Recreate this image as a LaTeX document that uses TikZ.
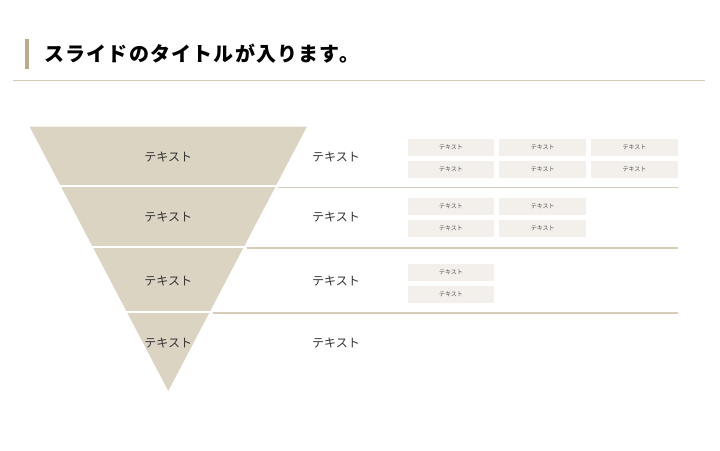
\documentclass[tikz,border=0pt]{standalone}
\usepackage{fontspec}
\usepackage{xcolor}
\usepackage{tikz}
\newfontfamily\jpfont{Noto Sans CJK JP}
\newfontfamily\jptitle[LetterSpace=6]{Noto Sans CJK JP}
\definecolor{funnelbeige}{HTML}{DCD4C3}
\definecolor{rulebeige}{HTML}{D6CCB8}
\definecolor{titlebar}{HTML}{BBAB8B}
\definecolor{boxgray}{HTML}{F3F0EB}
\definecolor{textdark}{HTML}{333333}
\definecolor{textsoft}{HTML}{555555}

\begin{document}
\begin{tikzpicture}[x=1pt, y=-1pt,
  lbl/.style={text=textdark, inner sep=0pt, font=\jpfont\fontsize{12}{14}\selectfont},
  itembox/.style={fill=boxgray, anchor=north west, minimum width=86.5pt, minimum height=17pt, inner sep=0pt, text=textsoft, font=\jpfont\fontsize{6}{7}\selectfont}]
\useasboundingbox (0,0) rectangle (720,450);
% title
\fill[titlebar] (25,39) rectangle (29,69);
\node[anchor=west, inner sep=0pt, text=black, font=\jptitle\bfseries\fontsize{20}{24}\selectfont] (title) at (44,53.5) {スライドのタイトルが入ります。};
\draw[rulebeige, line width=1.3pt] (13,80.7) -- (705,80.7);
% funnel
\fill[funnelbeige] (29.5,126.5) -- (307,126.5) -- (168.3,391) -- cycle;
\foreach \y in {185.8,246.5,311.8}
  \draw[white, line width=2pt] (20,\y) -- (310,\y);
\foreach \y in {187.3,247.7,312.8}
  \draw[rulebeige, line width=1.6pt] ({310-0.5227*(\y-126.5)},\y) -- (677.5,\y);
% labels
\foreach \y [count=\i] in {157,217,281,343} {
  \node[lbl] (fun\i) at (168.3,\y) {テキスト};
  \node[lbl] (txt\i) at (336,\y) {テキスト};
}
% item boxes
\foreach \r/\ncol/\ytop in {1/3/139, 2/2/198, 3/1/264}
  \foreach \c in {1,...,\ncol}
    \foreach \k in {0,1}
      \node[itembox] (item\r-\c-\k) at ({407.5+(\c-1)*91.75},{\ytop+\k*21.7}) {テキスト};
\end{tikzpicture}
\end{document}
